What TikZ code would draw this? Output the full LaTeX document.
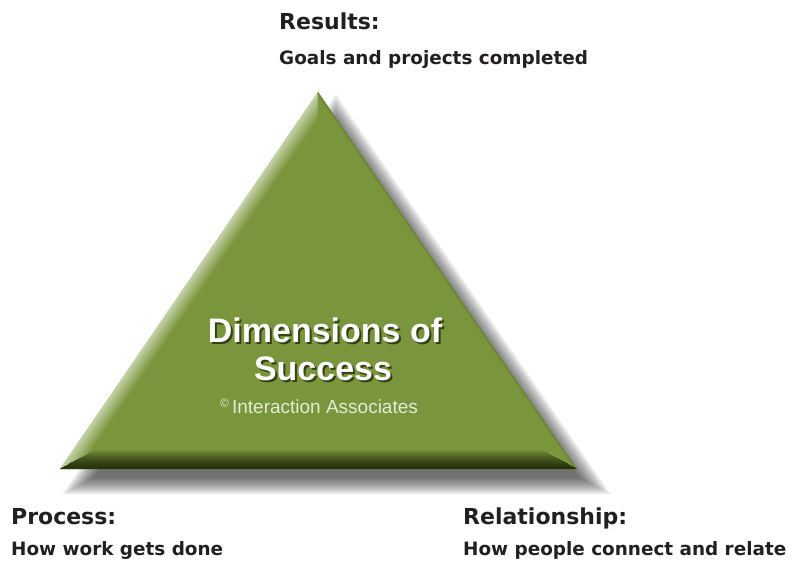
\documentclass[tikz,border=0pt]{standalone}
\usepackage{fontspec}
\setmainfont{Liberation Sans}
\newfontfamily\headfont{DejaVu Sans}
\usepackage{xcolor}
\usepackage{tikz}
\usetikzlibrary{calc}
\definecolor{leafgreen}{HTML}{7A963C}
\definecolor{leafdark}{HTML}{28320E}
\definecolor{leaflight}{HTML}{E4EAD4}
\definecolor{inkgray}{HTML}{231F20}

% triangle shrunk (k<1) or grown (k>1) about its incentre
\newcommand{\pyramid}[1]{($(ctr)!#1!(apex)$) -- ($(ctr)!#1!(left)$) -- ($(ctr)!#1!(right)$) -- cycle}
\newcommand{\dropped}[1]{($(ctr)!#1!(apex)+(18,17)$) -- ($(ctr)!#1!(left)+(18,17)$) -- ($(ctr)!#1!(right)+(18,17)$) -- cycle}
% white lettering with a dark offset copy behind it
\newcommand{\embossed}[1]{\makebox[0pt][l]{\hspace{2pt}\raisebox{-2pt}{\color{leafdark!85!leafgreen}#1}}#1}

\begin{document}
\begin{tikzpicture}[
  x=1pt,y=-1pt,
  heading/.style={anchor=base west,inner sep=0pt,text=inkgray,font=\headfont\bfseries\fontsize{22}{22}\selectfont},
  subheading/.style={anchor=base west,inner sep=0pt,text=inkgray,font=\headfont\bfseries\fontsize{18.4}{18.4}\selectfont},
  title/.style={anchor=base,inner sep=0pt,text=white,font=\bfseries\fontsize{34}{34}\selectfont},
  credit/.style={anchor=base,inner sep=0pt,text=leaflight,font=\fontsize{19}{19}\selectfont},
  edge/.style={line width=1.4pt,line cap=butt}
]
\useasboundingbox (0,0) rectangle (796,566);
\coordinate (apex) at (318,92);
\coordinate (left) at (60,469);
\coordinate (right) at (577,469);
\coordinate (ctr) at (318.2,332.8);

% soft drop shadow
\foreach \d in {-8,-6,...,8}{
  \pgfmathsetmacro\k{1+\d/136.2}
  \fill[black,opacity=0.085] \dropped{\k};
}

% body and bevelled rim
\fill[leafgreen] \pyramid{1};
\begin{scope}
  \clip \pyramid{1};
  \foreach \d in {0,...,20}{
    \pgfmathsetmacro\k{1-\d/136.2}
    \pgfmathsetmacro\pl{min(100,25+\d*75/16)}
    \pgfmathsetmacro\pb{100*(\d/20)^1.6}
    \pgfmathsetmacro\pr{min(100,75+\d*10)}
    \draw[edge,leafgreen!\pl!leaflight] ($(ctr)!\k!(apex)$) -- ($(ctr)!\k!(left)$);
    \draw[edge,leafgreen!\pr!leafdark] ($(ctr)!\k!(apex)$) -- ($(ctr)!\k!(right)$);
    \draw[edge,leafgreen!\pb!leafdark] ($(ctr)!\k!(left)$) -- ($(ctr)!\k!(right)$);
  }
\end{scope}

% caption inside
\node[title] (dim) at (325,342) {\embossed{Dimensions of}};
\node[title] (suc) at (323,380) {\embossed{Success}};
\node[credit] (credit) at (319,413) {\raisebox{6pt}{\fontsize{12}{12}\selectfont ©}\,Interaction Associates};

% corner labels
\node[heading] (results) at (279,29) {Results:};
\node[subheading] (goals) at (279,64) {Goals and projects completed};
\node[heading] (process) at (11,524) {Process:};
\node[subheading] (work) at (11,555) {How work gets done};
\node[heading] (relation) at (463,524) {Relationship:};
\node[subheading] (people) at (463,555) {How people connect and relate};
\end{tikzpicture}
\end{document}
